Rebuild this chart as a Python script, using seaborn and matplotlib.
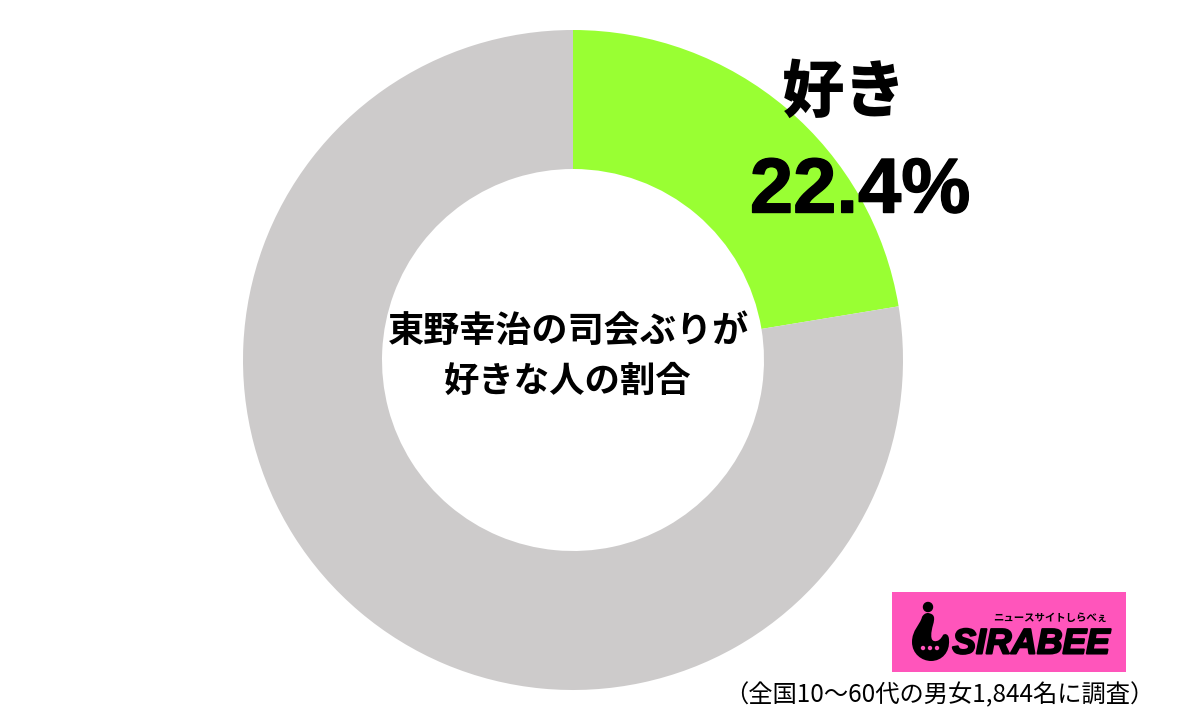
import matplotlib
matplotlib.use('Agg')
import matplotlib.pyplot as plt
import matplotlib.patheffects as pe
from matplotlib.patches import Rectangle, Circle, PathPatch
from matplotlib.path import Path
import seaborn as sns

sns.set_theme(style="white")
plt.rcParams['font.family'] = ['Noto Sans CJK JP', 'DejaVu Sans']

# data
labels = ['好き', 'その他']
values = [22.4, 77.6]
colors = sns.color_palette(['#99FF33', '#CDCBCB'])

center_lines = ['東野幸治の司会ぶりが', '好きな人の割合']
big_label = '好き'
big_value = '22.4%'
note = '（全国10〜60代の男女1,844名に調査）'
logo_sub = 'ニュースサイトしらべぇ'
logo_name = 'SIRABEE'

W, H = 1200, 718
PINK = '#FF55BB'
fig = plt.figure(figsize=(W / 100, H / 100), dpi=100, facecolor='white')
ax = fig.add_axes([0, 0, 1, 1])

# axes in pixels of the image, y going up so the pie keeps its direction
cx, cy = 573, H - 360
R = 330

ax.pie(values, colors=colors, startangle=90, counterclock=False, center=(cx, cy), radius=R,
       wedgeprops=dict(width=R - 191, linewidth=0), frame=True)
ax.set_xlim(0, W)
ax.set_ylim(0, H)
ax.set_aspect('equal')
ax.axis('off')


def put(x, y, s, size, weight='normal', **kw):
    return ax.text(x, H - y, s, fontsize=size, fontweight=weight, ha='center', va='center', color='black', **kw)


put(569, 332, center_lines[0], 26, 'bold')
put(568, 381, center_lines[1], 25.5, 'bold')

put(844, 93, big_label, 45, 'black')
t = ax.text(860, H - 192, big_value, fontsize=56, fontweight='bold', ha='center', va='center',
            color='black', family=['Liberation Sans', 'DejaVu Sans'])
t.set_path_effects([pe.withStroke(linewidth=1, foreground='black')])

# logo
ax.add_patch(Rectangle((892, H - 672), 234, 80, facecolor=PINK, edgecolor='none'))
ax.add_patch(Circle((928, H - 607), 4.5, color='black'))
outline = [(922, 617),
           (920, 625), (912, 630), (912, 642),
           (912, 654), (922, 661), (931, 661),
           (942, 661), (950, 652), (949, 640),
           (949, 634), (945, 633), (943, 635),
           (941, 639), (938, 642), (934, 641),
           (930, 640), (931, 632), (933, 625),
           (935, 618), (935, 614), (928, 613),
           (925, 613), (923, 615), (922, 617)]
codes = [Path.MOVETO] + [Path.CURVE4] * (len(outline) - 1)
body = Path([(x, H - y) for x, y in outline], codes)
ax.add_patch(PathPatch(body, facecolor='black', edgecolor='none'))
for ex in [923, 930, 937]:
    ax.add_patch(Circle((ex, H - 648), 1.5, color=PINK, zorder=5))

n = ax.text(1031, H - 644, logo_name, fontsize=25.5, fontweight='bold', style='italic', ha='center', va='center',
            color='black', family=['Liberation Sans', 'DejaVu Sans'])
n.set_path_effects([pe.withStroke(linewidth=1.5, foreground='black')])
put(1050, 618, logo_sub, 7.5, 'bold')

put(939, 695, note, 17.5)

fig.savefig('out.png', dpi=100)
